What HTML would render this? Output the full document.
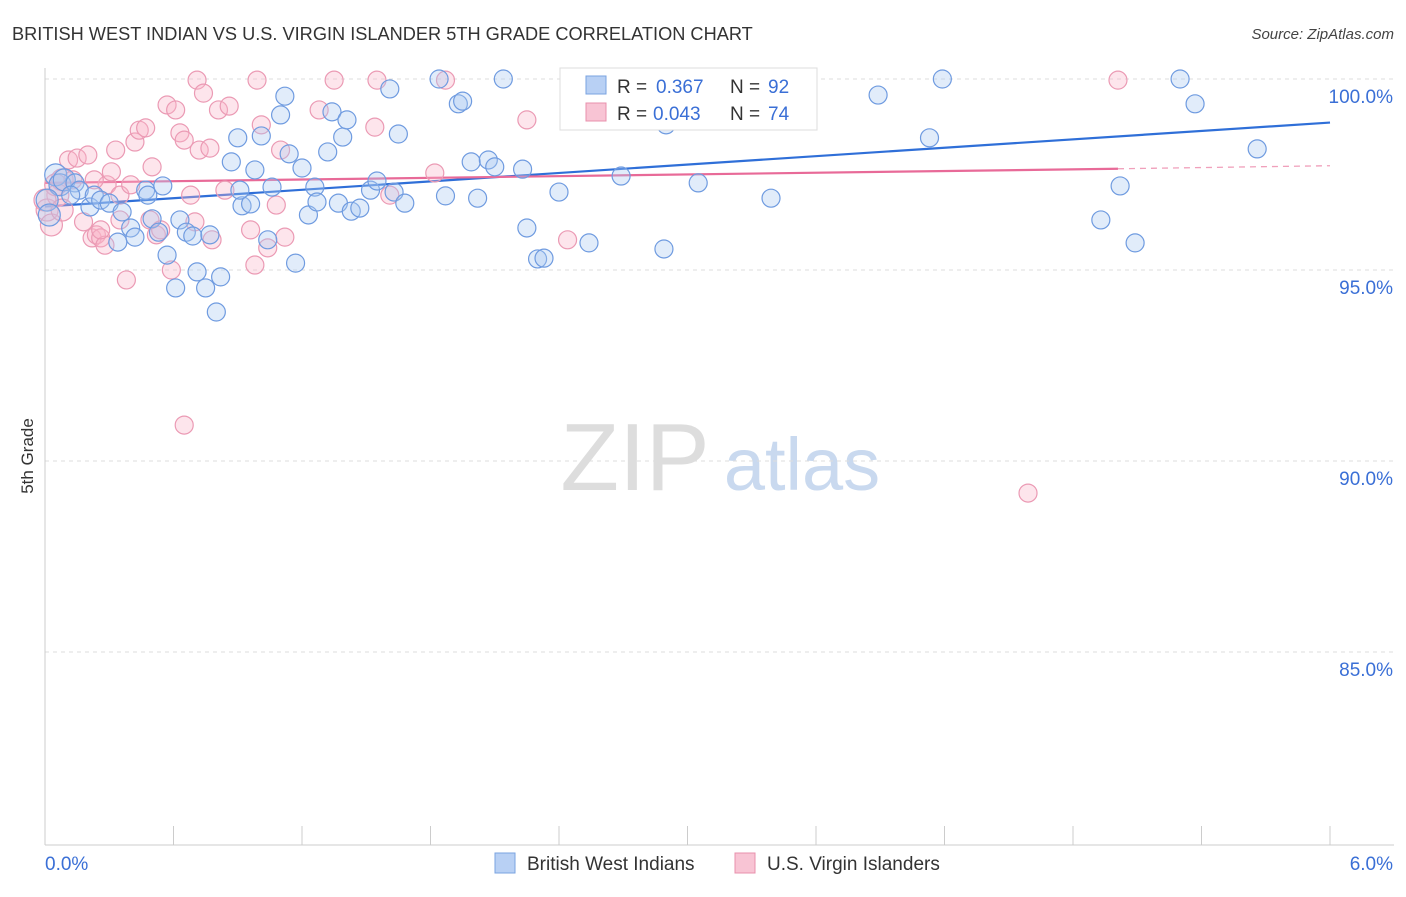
<!DOCTYPE html>
<html><head><meta charset="utf-8"><style>
body{margin:0;background:#fff;font-family:"Liberation Sans",sans-serif;}
svg text{font-family:"Liberation Sans",sans-serif;}
</style></head><body>
<svg id="chart" width="1406" height="892" xmlns="http://www.w3.org/2000/svg">
<text x="12" y="40" font-size="18.2" fill="#333">BRITISH WEST INDIAN VS U.S. VIRGIN ISLANDER 5TH GRADE CORRELATION CHART</text>
<text x="1394" y="39" font-size="15" fill="#444" font-style="italic" text-anchor="end">Source: ZipAtlas.com</text>
<text x="33" y="456" font-size="17" fill="#333" transform="rotate(-90 33 456)" text-anchor="middle">5th Grade</text>
<g>
<text x="635" y="490" font-size="96" fill="#ddd" font-family="Liberation Serif" text-anchor="middle">ZIP</text>
<text x="802" y="490" font-size="74" fill="#c9d9ef" text-anchor="middle">atlas</text>
</g>
<g id="grid"></g><g id="axes"></g><g id="trends"></g><g id="pts"></g>
<g>
<rect x="560" y="68" width="257" height="62" fill="#fff" stroke="#ddd"/>
<rect x="586" y="76" width="20" height="18" fill="#b8d0f4" stroke="#7aa3e0"/>
<text x="617" y="93" font-size="19" fill="#333">R =</text>
<text x="656" y="93" font-size="19" fill="#3a6fd6">0.367</text>
<text x="730" y="93" font-size="19" fill="#333">N =</text>
<text x="768" y="93" font-size="19" fill="#3a6fd6">92</text>
<rect x="586" y="103" width="20" height="18" fill="#f8c4d4" stroke="#e890ac"/>
<text x="617" y="120" font-size="19" fill="#333">R =</text>
<text x="653" y="120" font-size="19" fill="#3a6fd6">0.043</text>
<text x="730" y="120" font-size="19" fill="#333">N =</text>
<text x="768" y="120" font-size="19" fill="#3a6fd6">74</text>
</g>
<g>
<rect x="495" y="853" width="20" height="20" fill="#b8d0f4" stroke="#7aa3e0"/>
<text x="527" y="870" font-size="19" fill="#333">British West Indians</text>
<rect x="735" y="853" width="20" height="20" fill="#f8c4d4" stroke="#e890ac"/>
<text x="767" y="870" font-size="19" fill="#333">U.S. Virgin Islanders</text>
</g>
</svg>
<script>
const blueX=[0.05,0.07,0.09,0.14,0.16,0.21,0.23,0.26,0.30,0.34,0.36,0.40,0.42,0.47,0.48,0.50,0.53,0.55,0.57,0.61,0.63,0.66,0.69,0.71,0.75,0.77,0.80,0.82,0.87,0.90,0.92,0.96,0.98,1.01,1.04,1.06,1.10,1.12,1.14,1.17,1.20,1.23,1.26,1.27,1.32,1.34,1.37,1.39,1.41,1.43,1.47,1.52,1.55,1.61,1.63,1.65,1.68,1.84,1.87,1.93,1.95,1.99,2.02,2.07,2.10,2.14,2.23,2.25,2.30,2.33,2.40,2.54,2.69,2.89,2.90,3.05,3.37,3.39,3.50,3.89,4.13,4.19,4.93,5.02,5.09,5.30,5.37,5.66,0.01,0.02,0.12,0.91];
const blueY=[97.49,97.23,97.36,97.28,97.09,96.65,96.96,96.83,96.75,95.73,96.52,96.10,95.86,97.09,96.96,96.34,95.99,97.20,95.39,94.53,96.31,95.99,95.89,94.95,94.53,95.92,93.90,94.82,97.83,98.46,96.68,96.73,97.62,98.51,95.79,97.17,99.06,99.55,98.04,95.18,97.67,96.44,97.17,96.78,98.09,99.14,96.75,98.48,98.93,96.54,96.62,97.09,97.33,99.74,97.04,98.56,96.75,100,96.94,99.35,99.42,97.83,96.88,97.88,97.70,100,97.64,96.10,95.29,95.31,97.04,95.71,97.46,95.55,98.80,97.28,99.37,96.88,99.92,99.58,98.46,100,96.31,97.20,95.71,100,99.35,98.17,96.83,96.44,96.96,97.09];
const pinkX=[0.01,0.03,0.06,0.08,0.11,0.13,0.15,0.18,0.20,0.22,0.24,0.26,0.28,0.29,0.31,0.33,0.35,0.38,0.40,0.42,0.44,0.47,0.49,0.50,0.52,0.54,0.57,0.59,0.61,0.63,0.65,0.68,0.70,0.71,0.72,0.74,0.77,0.78,0.81,0.84,0.86,0.96,0.98,0.99,1.01,1.04,1.08,1.10,1.12,1.28,1.35,1.54,1.55,1.61,1.82,1.87,2.25,2.44,0.65,4.59,5.01,0.05,0.00,0.08,0.26,0.35,0.23];
const pinkY=[96.57,96.18,96.96,97.36,97.88,97.36,97.93,96.26,98.01,95.84,95.92,95.84,95.65,97.23,97.57,98.14,96.96,94.74,97.23,98.35,98.66,98.72,96.31,97.70,95.92,96.05,99.32,95.00,99.19,98.59,98.40,96.96,96.26,99.97,98.14,99.63,98.19,95.79,99.19,97.09,99.29,96.05,95.13,99.97,98.80,95.58,96.70,98.14,95.86,99.19,99.97,98.74,99.97,96.96,97.54,99.97,98.93,95.79,90.94,89.16,99.97,97.23,96.83,96.57,96.05,96.31,97.36];
const blueTrendX=[0,6], blueTrendY=[96.66,98.86];
const pinkTrendX=[0,5.01], pinkTrendY=[97.28,97.65];
const pinkDashX=[5.01,6], pinkDashY=[97.65,97.73];
const yTicks=[100,95,90,85], yTickLabels=["100.0%","95.0%","90.0%","85.0%"];
const xTickCount=10;

const NS="http://www.w3.org/2000/svg";
const X0=45,X1=1330,YTOP=79,PPU=38.2;
const sx=v=>X0+(v/6)*(X1-X0);
const sy=v=>YTOP+(100-v)*PPU;
function mk(tag,attrs,parent){const e=document.createElementNS(NS,tag);for(const k in attrs)e.setAttribute(k,attrs[k]);document.getElementById(parent).appendChild(e);return e;}
yTicks.forEach((t,i)=>{
 const l=mk('line',{x1:X0,x2:1394,y1:sy(t),y2:sy(t),stroke:'#ddd','stroke-dasharray':'4,4'},'grid');
 
 
 const tx=mk('text',{x:1393,y:sy(t)+24,'font-size':19,fill:'#3a6fd6','text-anchor':'end'},'grid');
 tx.textContent=yTickLabels[i];
 
 
});
const ax=mk('line',{x1:X0,x2:X0,y1:68,y2:845,stroke:'#ccc'},'axes');


const bx=mk('line',{x1:X0,x2:1394,y1:845,y2:845,stroke:'#ccc'},'axes');


for(let i=0;i<=xTickCount;i++){
 const x=X0+i*(X1-X0)/xTickCount;
 const t=mk('line',{x1:x,x2:x,y1:826,y2:845,stroke:'#ccc'},'axes');
 
 
}
const xl0=mk('text',{x:45,y:870,'font-size':19,fill:'#3a6fd6'},'axes');xl0.textContent='0.0%';


const xl1=mk('text',{x:1393,y:870,'font-size':19,fill:'#3a6fd6','text-anchor':'end'},'axes');xl1.textContent='6.0%';


function pts(xs,ys,fill,stroke,name){xs.forEach((v,i)=>{
 const r=v<0.1?11:9;
 const c=mk('circle',{cx:sx(v),cy:sy(ys[i]),r:r,fill:fill,stroke:stroke,'stroke-width':1.2},'pts');
 
 
});}
pts(pinkX,pinkY,'rgba(248,180,200,0.35)','#eb9ab4','point-us-virgin-islanders');
pts(blueX,blueY,'rgba(170,200,240,0.35)','#6f9be0','point-british-west-indians');
function line(xs,ys,color,dash,name){const l=mk('line',{x1:sx(xs[0]),y1:sy(ys[0]),x2:sx(xs[1]),y2:sy(ys[1]),stroke:color,'stroke-width':dash?1.3:2.2},'trends');if(dash)l.setAttribute('stroke-dasharray','6,5');
 
 }
line(blueTrendX,blueTrendY,'#2f6fd8',false,'trend-line-british-west-indians');
line(pinkTrendX,pinkTrendY,'#e86a98',false,'trend-line-us-virgin-islanders');
line(pinkDashX,pinkDashY,'#f0a0bb',true,'trend-line-extension-us-virgin-islanders');
</script>
</body></html>
